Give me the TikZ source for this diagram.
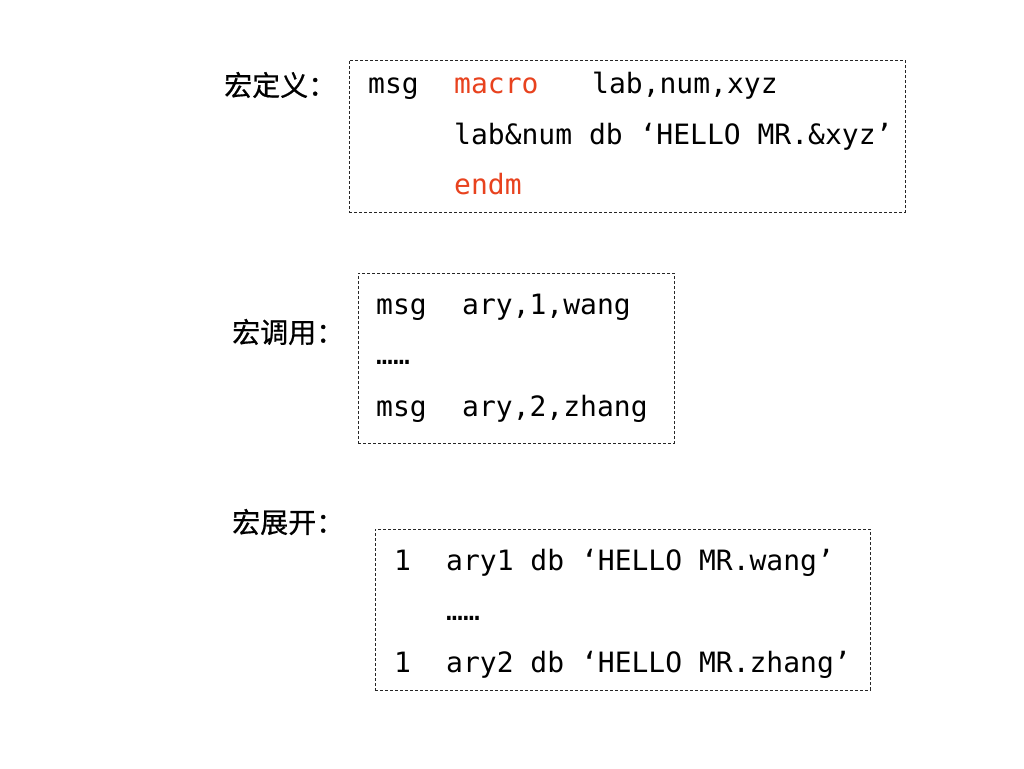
\documentclass[tikz,border=0pt]{standalone}
\usepackage{fontspec}
\setmonofont{DejaVu Sans Mono}
\newfontfamily\cjk[FakeBold=0.6]{Noto Sans CJK SC}
\usepackage{xcolor}
\definecolor{macrored}{HTML}{E8421E}

\begin{document}
\begin{tikzpicture}[x=1pt,y=-1pt]
    \tikzset{codebox/.style = {draw=black!85, dash pattern=on 3pt off 2pt, line width=0.8pt, inner sep=0}}
    \tikzset{code/.style = {anchor=base west, inner sep=0, font=\ttfamily\fontsize{28}{34}\selectfont}}
    \tikzset{cntitle/.style = {anchor=west, inner sep=0, font=\cjk\fontsize{28}{34}\selectfont}}
    \fill[white] (0,0) rectangle (1024,768);

    % boxes
    \node[codebox, minimum width=556, minimum height=152] (defbox) at (627,136) {};
    \node[codebox, minimum width=316, minimum height=170] (callbox) at (516,358) {};
    \node[codebox, minimum width=495, minimum height=161] (expbox) at (622.5,609.5) {};

    % titles
    \node[cntitle] (deftitle) at (224,85) {宏定义：};
    \node[cntitle] (calltitle) at (232,332) {宏调用：};
    \node[cntitle] (exptitle) at (232,522) {宏展开：};

    % macro definition
    \node[code] (defname) at (368,93) {msg};
    \node[code, text=macrored] (defkey) at (454,93) {macro};
    \node[code] (defargs) at (592,93) {lab,num,xyz};
    \node[code] (defbody) at (454,144) {lab\&num db ‘HELLO MR.\&xyz’};
    \node[code, text=macrored] (defend) at (454,194) {endm};

    % macro call
    \node[code] (callnameA) at (376,314) {msg};
    \node[code] (callargsA) at (462,314) {ary,1,wang};
    \node[code] (calldots) at (376,364) {……};
    \node[code] (callnameB) at (376,416) {msg};
    \node[code] (callargsB) at (462,416) {ary,2,zhang};

    % macro expansion
    \node[code] (expnumA) at (394,570) {1};
    \node[code] (explineA) at (446,570) {ary1 db ‘HELLO MR.wang’};
    \node[code] (expdots) at (446,620) {……};
    \node[code] (expnumB) at (394,672) {1};
    \node[code] (explineB) at (446,672) {ary2 db ‘HELLO MR.zhang’};
\end{tikzpicture}
\end{document}
